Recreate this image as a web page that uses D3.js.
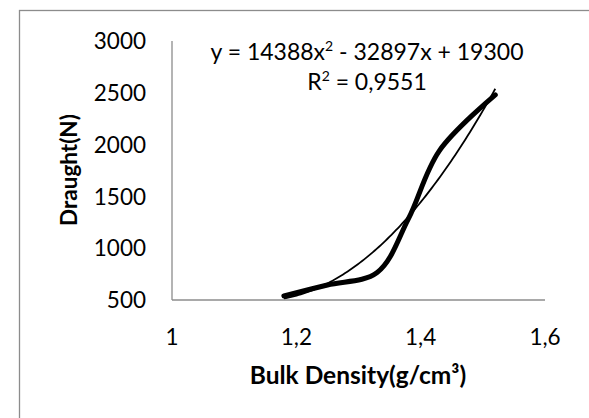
<!DOCTYPE html>
<html>
<head>
<meta charset="utf-8">
<script src="https://cdn.jsdelivr.net/npm/d3@7"></script>
<style>
  body { margin: 0; background: #fff; }
  text { font-family: Lato, "Open Sans", sans-serif; fill: #000; }
  .tick-label { font-size: 22.5px; }
  .axis-title { font-weight: bold; }
  .eq { font-size: 23px; }
</style>
</head>
<body>
<div id="chart"></div>
<script>
// measured points (bulk density vs draught)
var bulkDensity = [1.18, 1.25, 1.33, 1.38, 1.43, 1.52];
var draught = [540, 645, 765, 1280, 1940, 2480];

// polynomial trendline y = a x^2 + b x + c, as printed on the chart
var trendCoef = [14388, -32897, 19300];
var trendR2 = "0,9551";

// axis ticks
var xTicks = [1, 1.2, 1.4, 1.6];
var yTicks = [500, 1000, 1500, 2000, 2500, 3000];

var svgWidth = 589;
var svgHeight = 418;

var svg = d3.select("#chart").append("svg")
  .attr("width", svgWidth)
  .attr("height", svgHeight);

// chart border (runs off the right and bottom)
svg.append("rect")
  .attr("x", 19.5)
  .attr("y", 10.5)
  .attr("width", 620)
  .attr("height", 450)
  .attr("fill", "none")
  .attr("stroke", "#8c8c8c")
  .attr("stroke-width", 1.3);

var xScale = d3.scaleLinear().domain([1, 1.6]).range([172, 545]);
var yScale = d3.scaleLinear().domain([500, 3000]).range([300, 41]);

// axis lines
svg.append("line")
  .attr("x1", xScale(1)).attr("x2", xScale(1))
  .attr("y1", yScale(3000)).attr("y2", yScale(500))
  .attr("stroke", "#8c8c8c").attr("stroke-width", 1.3);

svg.append("line")
  .attr("x1", xScale(1)).attr("x2", xScale(1.6))
  .attr("y1", yScale(500)).attr("y2", yScale(500))
  .attr("stroke", "#8c8c8c").attr("stroke-width", 1.3);

// tick labels
svg.selectAll(".ytick")
  .data(yTicks)
  .enter()
  .append("text")
  .attr("class", "tick-label")
  .attr("x", 146)
  .attr("y", d => yScale(d))
  .attr("dy", "0.36em")
  .attr("text-anchor", "end")
  .text(d => d);

svg.selectAll(".xtick")
  .data(xTicks)
  .enter()
  .append("text")
  .attr("class", "tick-label")
  .attr("x", d => xScale(d))
  .attr("y", 345)
  .attr("text-anchor", "middle")
  .text(d => String(d).replace(".", ","));

// axis titles
svg.append("text")
  .attr("class", "axis-title")
  .attr("font-size", "22.5px")
  .attr("transform", "translate(77, 170) rotate(-90)")
  .attr("text-anchor", "middle")
  .text("Draught(N)");

svg.append("text")
  .attr("class", "axis-title")
  .attr("font-size", "24.5px")
  .attr("x", 358)
  .attr("y", 384)
  .attr("text-anchor", "middle")
  .text("Bulk Density(g/cm³)");

// trendline
var trendX = d3.range(0, 101).map(i => d3.min(bulkDensity) + i / 100 * (d3.max(bulkDensity) - d3.min(bulkDensity)));
var trendLine = d3.line()
  .x(d => xScale(d))
  .y(d => yScale(trendCoef[0] * d * d + trendCoef[1] * d + trendCoef[2]));

svg.append("path")
  .attr("d", trendLine(trendX))
  .attr("fill", "none")
  .attr("stroke", "#000")
  .attr("stroke-width", 1.8);

// smoothed data line
var dataLine = d3.line()
  .x((d, i) => xScale(bulkDensity[i]))
  .y(d => yScale(d))
  .curve(d3.curveCatmullRom);

svg.append("path")
  .attr("d", dataLine(draught))
  .attr("fill", "none")
  .attr("stroke", "#000")
  .attr("stroke-width", 5)
  .attr("stroke-linecap", "round");

// equation label
var eq = svg.append("text")
  .attr("class", "eq")
  .attr("x", 367)
  .attr("y", 60)
  .attr("text-anchor", "middle");
eq.append("tspan").text("y = " + trendCoef[0] + "x");
eq.append("tspan").attr("dy", -9).attr("font-size", "14px").text("2");
eq.append("tspan").attr("dy", 9).text(" - " + Math.abs(trendCoef[1]) + "x + " + trendCoef[2]);

var r2 = svg.append("text")
  .attr("class", "eq")
  .attr("x", 367)
  .attr("y", 90)
  .attr("text-anchor", "middle");
r2.append("tspan").text("R");
r2.append("tspan").attr("dy", -9).attr("font-size", "14px").text("2");
r2.append("tspan").attr("dy", 9).text(" = " + trendR2);
</script>
</body>
</html>
